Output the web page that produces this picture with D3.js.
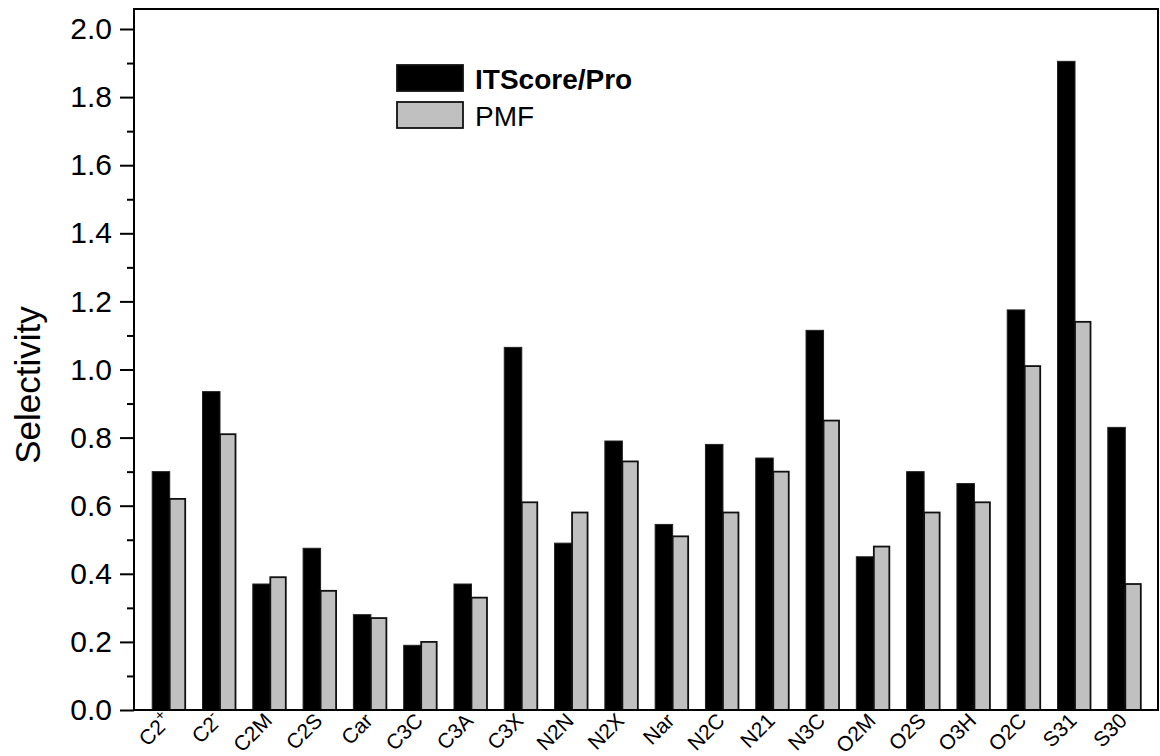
<!DOCTYPE html>
<html>
<head>
<meta charset="utf-8">
<script src="https://cdn.jsdelivr.net/npm/d3@7"></script>
<style>
  body { margin: 0; background: #fff; }
  svg { font-family: "Liberation Sans", Arial, sans-serif; }
</style>
</head>
<body>
<div id="app"></div>
<script>
// categories and series
const categories = ['C2+', 'C2-', 'C2M', 'C2S', 'Car', 'C3C', 'C3A', 'C3X', 'N2N', 'N2X',
  'Nar', 'N2C', 'N21', 'N3C', 'O2M', 'O2S', 'O3H', 'O2C', 'S31', 'S30'];
const itscore = [0.70, 0.935, 0.37, 0.475, 0.28, 0.19, 0.37, 1.065, 0.49, 0.79,
  0.545, 0.78, 0.74, 1.115, 0.45, 0.70, 0.665, 1.175, 1.905, 0.83];
const pmf = [0.62, 0.81, 0.39, 0.35, 0.27, 0.20, 0.33, 0.61, 0.58, 0.73,
  0.51, 0.58, 0.70, 0.85, 0.48, 0.58, 0.61, 1.01, 1.14, 0.37];
const yTicks = [0.0, 0.2, 0.4, 0.6, 0.8, 1.0, 1.2, 1.4, 1.6, 1.8, 2.0];
const yMinor = [0.1, 0.3, 0.5, 0.7, 0.9, 1.1, 1.3, 1.5, 1.7, 1.9];
const seriesNames = ['ITScore/Pro', 'PMF'];

const W = 1160, H = 756;
const mLeft = 134, mRight = 1158, mTop = 9, mBottom = 710;

const svg = d3.select('#app').append('svg').attr('width', W).attr('height', H);

// x: category index, y: selectivity
const x = d3.scaleLinear().domain([-0.71, 19.65]).range([mLeft, mRight]);
const y = d3.scaleLinear().domain([0, 2.0]).range([mBottom, mBottom - 2.0 * 340.5]);

const g = svg.append('g');

// bars - black series sits left of the category centre, gray right of it
g.selectAll('rect.its')
  .data(itscore)
  .enter()
  .append('rect')
  .attr('class', 'its')
  .attr('x', (d, i) => x(i) - 17.5)
  .attr('width', 17.5)
  .attr('y', d => y(d))
  .attr('height', d => y(0) - y(d))
  .attr('fill', '#000')
  .attr('stroke', '#222')
  .attr('stroke-width', 1);

g.selectAll('rect.pmf')
  .data(pmf)
  .enter()
  .append('rect')
  .attr('class', 'pmf')
  .attr('x', (d, i) => x(i))
  .attr('width', 15.5)
  .attr('y', d => y(d))
  .attr('height', d => y(0) - y(d))
  .attr('fill', '#c0c0c0')
  .attr('stroke', '#111')
  .attr('stroke-width', 1.8);

// frame
svg.append('rect')
  .attr('x', mLeft).attr('y', mTop)
  .attr('width', mRight - mLeft).attr('height', mBottom - mTop)
  .attr('fill', 'none').attr('stroke', '#000').attr('stroke-width', 2);

// y axis, major + minor ticks
const yAxis = svg.append('g')
  .attr('transform', `translate(${mLeft},0)`)
  .call(d3.axisLeft(y).tickValues(yTicks).tickSize(14).tickPadding(8).tickFormat(d3.format('.1f')));
yAxis.select('.domain').remove();
yAxis.selectAll('line').attr('stroke', '#000').attr('stroke-width', 2);
yAxis.selectAll('text')
  .attr('font-size', '30px')
  .attr('fill', '#000')
  .attr('font-family', '"Liberation Sans", Arial, sans-serif');

const yAxisMinor = svg.append('g')
  .attr('transform', `translate(${mLeft},0)`)
  .call(d3.axisLeft(y).tickValues(yMinor).tickSize(7).tickFormat(''));
yAxisMinor.select('.domain').remove();
yAxisMinor.selectAll('line').attr('stroke', '#000').attr('stroke-width', 2);

// x labels, rotated
const xl = svg.append('g').selectAll('text')
  .data(categories)
  .enter()
  .append('text')
  .attr('transform', (d, i) => `translate(${x(i) + 3},${mBottom + 12}) rotate(-45)`)
  .attr('text-anchor', 'end')
  .attr('font-size', '21px')
  .attr('fill', '#000');
xl.each(function (d) {
  const t = d3.select(this);
  if (d.endsWith('+') || d.endsWith('-')) {
    t.append('tspan').text(d.slice(0, -1));
    t.append('tspan').attr('font-size', '15px').attr('dy', -9).text(d.slice(-1));
  } else {
    t.text(d);
  }
});

// y title
svg.append('text')
  .attr('transform', `translate(40,385) rotate(-90)`)
  .attr('text-anchor', 'middle')
  .attr('font-size', '35px')
  .attr('fill', '#000')
  .text('Selectivity');

// legend
const legend = svg.append('g');
const fills = ['#000', '#c0c0c0'];
seriesNames.forEach((name, i) => {
  legend.append('rect')
    .attr('x', 397).attr('y', 65 + i * 37)
    .attr('width', 66).attr('height', 26)
    .attr('fill', fills[i]).attr('stroke', '#111').attr('stroke-width', 1.8);
  legend.append('text')
    .attr('x', 475).attr('y', 89 + i * 37)
    .attr('font-size', '28px')
    .attr('font-weight', i === 0 ? '700' : '400')
    .attr('fill', '#000')
    .text(name);
});
</script>
</body>
</html>
